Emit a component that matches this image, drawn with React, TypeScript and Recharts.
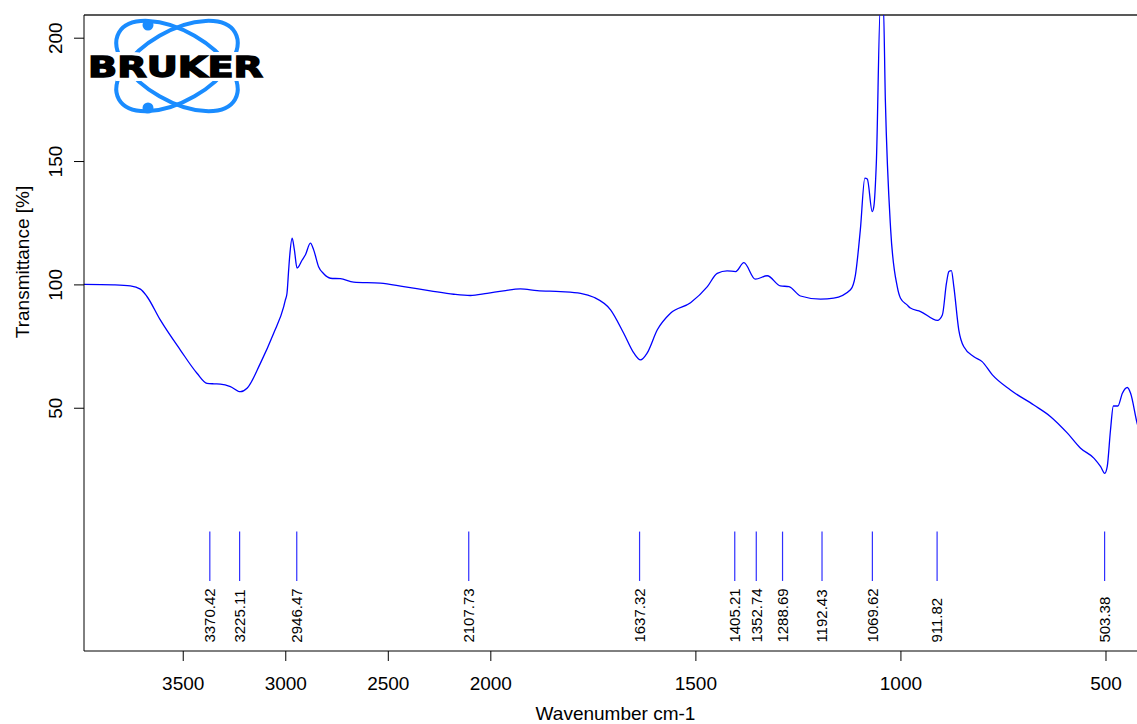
import React from "react";
import {
  ComposedChart,
  Line,
  Scatter,
  XAxis,
  YAxis,
  ReferenceLine,
} from "recharts";

// spectrum (wavenumber cm-1, transmittance %)
const wavenumbers = [
  3984, 3840, 3758, 3709, 3677, 3612, 3514, 3433, 3384, 3350, 3319, 3270, 3221,
  3189, 3124, 3059, 3010, 3002, 2994, 2986, 2981, 2969, 2958, 2945, 2920, 2904,
  2880, 2864, 2840, 2815, 2782, 2734, 2669, 2539, 2425, 2295, 2181, 2100, 2018,
  1969, 1928, 1887, 1830, 1781, 1749, 1708, 1676, 1651, 1635, 1619, 1594, 1562,
  1513, 1472, 1448, 1424, 1403, 1383, 1355, 1326, 1294, 1273, 1245, 1196, 1164,
  1123, 1111, 1099, 1088, 1082, 1070, 1066, 1060, 1050, 1043, 1038, 1025, 1009,
  1001, 985, 977, 952, 911, 899, 889, 883, 877, 871, 859, 847, 822, 802, 777,
  733, 676, 635, 594, 562, 529, 513, 503, 497, 489, 482, 471, 460, 448, 440,
  424, 410, 400,
];
const transmittance = [
  100.2, 100.0, 99.6, 98.3, 95.3, 85.8, 73.6, 64.2, 60.1, 59.9, 59.8, 58.8, 56.7,
  58.1, 68.2, 80.4, 91.2, 93.9, 96.6, 106, 111.5, 118.9, 114.2, 106.8, 110.1,
  112.2, 116.9, 114.2, 107.4, 104.5, 102.7, 102.5, 101.1, 100.7, 99.3, 97.6,
  96.2, 95.7, 96.6, 97.6, 98.4, 97.7, 97.3, 96.6, 95.0, 89.9, 80.4, 72.3, 69.6,
  72.3, 81.8, 88.5, 92.8, 99.3, 104.7, 105.7, 105.4, 109.0, 102.3, 103.7, 99.6,
  99.3, 95.5, 94.2, 94.6, 98.0, 104.0, 122.3, 143.3, 142.9, 129.7, 131.8, 149.4,
  214, 214, 175, 122.3, 99.3, 94.6, 91.9, 90.6, 89.2, 85.6, 87.8, 100.7, 105.4,
  105.8, 99.3, 81.8, 75.0, 70.9, 68.9, 63.5, 57.4, 51.3, 46.6, 39.9, 33.8, 29.7,
  26.3, 23.6, 26.3, 41.2, 50.9, 50.9, 56.1, 58.4, 56.1, 43.9, 37, 33,
];

const peakWavenumbers = [
  3370.42, 3225.11, 2946.47, 2107.73, 1637.32, 1405.21, 1352.74, 1288.69,
  1192.43, 1069.62, 911.82, 503.38,
];

const xTicks = [3500, 3000, 2500, 2000, 1500, 1000, 500];
const yTicks = [50, 100, 150, 200];

const Y_MIN = -48.4;
const Y_MAX = 209.4;

// the wavenumber axis is compressed by 2 above 2000 cm-1
const toU = (w: number) => (w > 2000 ? 2000 + (w - 2000) / 2 : w);
const fromU = (u: number) => (u > 2000 ? 2000 + (u - 2000) * 2 : u);

const spectrum = wavenumbers.map((w, i) => ({ u: toU(w), t: transmittance[i] }));
const peakLabels = peakWavenumbers.map((w) => ({ u: toU(w), y: -45, label: w.toFixed(2) }));

const FONT = "'Liberation Sans', Arial, sans-serif";

const YTick = (props: any) => {
  const { x, y, payload } = props;
  return (
    <text
      x={x}
      y={y}
      transform={`rotate(-90, ${x}, ${y})`}
      textAnchor="middle"
      fontSize={19}
      fontFamily={FONT}
      fill="#000"
    >
      {payload.value}
    </text>
  );
};

const PeakLabel = (props: any) => {
  const { cx, cy, payload } = props;
  return (
    <text
      x={cx}
      y={cy}
      dy="0.36em"
      transform={`rotate(-90, ${cx}, ${cy})`}
      textAnchor="start"
      fontSize={15}
      fontFamily={FONT}
      fill="#000"
    >
      {payload.label}
    </text>
  );
};

const BrukerLogo = () => (
  <svg
    width={300}
    height={130}
    style={{ position: "absolute", left: 0, top: 0, pointerEvents: "none" }}
  >
    <g fill="none" stroke="#1a8cff" strokeWidth={4}>
      <ellipse cx={177} cy={66} rx={67} ry={35} transform="rotate(30, 177, 66)" />
      <ellipse cx={177} cy={66} rx={67} ry={35} transform="rotate(-30, 177, 66)" />
    </g>
    <circle cx={148} cy={25} r={5.5} fill="#1a8cff" />
    <circle cx={148} cy={108} r={5.5} fill="#1a8cff" />
    <text
      x={88}
      y={77}
      fontSize={28}
      fontWeight="bold"
      fontFamily="'DejaVu Sans', sans-serif"
      textLength={175}
      lengthAdjust="spacingAndGlyphs"
      fill="#fff"
      stroke="#fff"
      strokeWidth={8}
    >
      BRUKER
    </text>
    <text
      x={88}
      y={77}
      fontSize={28}
      fontWeight="bold"
      fontFamily="'DejaVu Sans', sans-serif"
      textLength={175}
      lengthAdjust="spacingAndGlyphs"
      fill="#000"
      stroke="#000"
      strokeWidth={1.4}
    >
      BRUKER
    </text>
  </svg>
);

export default function App() {
  return (
    <div
      style={{
        position: "fixed",
        left: 0,
        top: 0,
        width: 1137,
        height: 724,
        overflow: "hidden",
        background: "#fff",
      }}
    >
      <ComposedChart
        width={1147}
        height={724}
        data={spectrum}
        margin={{ top: 15, right: 0, bottom: 0, left: 0 }}
      >
        <XAxis
          dataKey="u"
          type="number"
          domain={[400, 2992]}
          reversed
          allowDataOverflow
          ticks={xTicks.map(toU)}
          tickFormatter={(v) => String(fromU(v))}
          height={73}
          tickSize={10}
          tickMargin={16}
          stroke="#000"
          tick={{ fill: "#000", fontSize: 19, fontFamily: FONT }}
          label={{
            value: "Wavenumber cm-1",
            content: (p: any) => (
              <text
                x={p.viewBox.x + p.viewBox.width / 2}
                y={p.viewBox.y + 69}
                textAnchor="middle"
                fontSize={19}
                fontFamily={FONT}
                fill="#000"
              >
                Wavenumber cm-1
              </text>
            ),
          }}
        />
        <YAxis
          type="number"
          domain={[Y_MIN, Y_MAX]}
          allowDataOverflow
          ticks={yTicks}
          width={84}
          tickSize={10}
          tickMargin={12}
          stroke="#000"
          tick={<YTick />}
          label={{
            value: "Transmittance [%]",
            content: () => (
              <text
                x={29}
                y={262}
                transform="rotate(-90, 29, 262)"
                textAnchor="middle"
                fontSize={19}
                fontFamily={FONT}
                fill="#000"
              >
                Transmittance [%]
              </text>
            ),
          }}
        />
        <ReferenceLine y={Y_MAX} stroke="#222" strokeWidth={1.5} ifOverflow="visible" />
        {peakWavenumbers.map((w) => (
          <ReferenceLine
            key={w}
            segment={[
              { x: toU(w), y: 0 },
              { x: toU(w), y: -20 },
            ]}
            stroke="#2f2fff"
            strokeWidth={1.2}
            ifOverflow="visible"
          />
        ))}
        <Line
          type="monotone"
          dataKey="t"
          stroke="#0000ff"
          strokeWidth={1.3}
          dot={false}
          activeDot={false}
          isAnimationActive={false}
        />
        <Scatter
          data={peakLabels}
          dataKey="y"
          shape={<PeakLabel />}
          isAnimationActive={false}
        />
      </ComposedChart>
      <BrukerLogo />
    </div>
  );
}
